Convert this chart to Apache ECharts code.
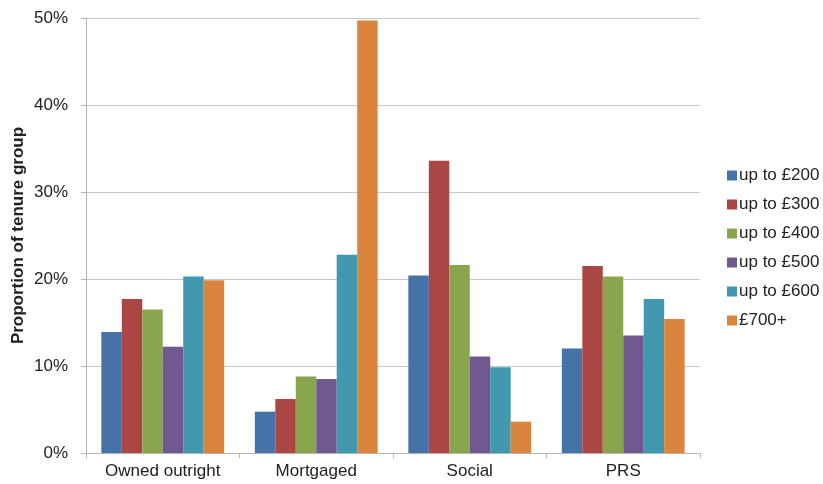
<!DOCTYPE html>
<html><head><meta charset="utf-8">
<script src="https://cdn.jsdelivr.net/npm/echarts@6/dist/echarts.min.js"></script>
<style>html,body{margin:0;padding:0;background:#fff}#c{width:823px;height:484px}</style>
</head><body><div id="c"></div>
<script>
const categories = ['Owned outright', 'Mortgaged', 'Social', 'PRS'];
const seriesNames = ['up to £200', 'up to £300', 'up to £400', 'up to £500', 'up to £600', '£700+'];
const upTo200 = [13.9, 4.75, 20.4, 12.0];
const upTo300 = [17.7, 6.2, 33.6, 21.5];
const upTo400 = [16.5, 8.8, 21.6, 20.3];
const upTo500 = [12.2, 8.5, 11.1, 13.5];
const upTo600 = [20.3, 22.8, 9.85, 17.7];
const over700 = [19.85, 49.7, 3.6, 15.4];
const yTicks = [0, 10, 20, 30, 40, 50];
const colors = ['#4572A7', '#AA4643', '#89A54E', '#71588F', '#4198AF', '#DB843D'];
const values = [upTo200, upTo300, upTo400, upTo500, upTo600, over700];

const chart = echarts.init(document.getElementById('c'));
chart.setOption({
  animation: false,
  color: colors,
  textStyle: { fontFamily: 'Liberation Sans, Arial, sans-serif' },
  grid: { left: 86, right: 123, top: 18, bottom: 31, containLabel: false, outerBoundsMode: 'none' },
  legend: {
    orient: 'vertical', left: 722, top: 162, itemWidth: 10, itemHeight: 10, itemGap: 12,
    icon: 'rect',
    textStyle: { fontSize: 17, color: '#222', padding: [0, 0, 0, -3] },
    data: seriesNames
  },
  xAxis: {
    type: 'category', data: categories,
    axisLine: { lineStyle: { color: '#b5b5b5' } },
    axisTick: { show: true, interval: 0, alignWithLabel: false, length: 5, lineStyle: { color: '#b5b5b5' } },
    axisLabel: { interval: 0, fontSize: 17, color: '#222', margin: 10 }
  },
  yAxis: {
    type: 'value', min: yTicks[0], max: yTicks[yTicks.length - 1], interval: 10,
    name: 'Proportion of tenure group', nameLocation: 'middle', nameGap: 59, nameRotate: 90,
    nameMoveOverlap: false,
    nameTextStyle: { fontSize: 17, fontWeight: 'bold', color: '#222' },
    axisLine: { show: true, lineStyle: { color: '#b5b5b5' } },
    axisTick: { show: true, length: 5, inside: false, lineStyle: { color: '#b5b5b5' } },
    splitLine: { lineStyle: { color: '#c8c8c8' } },
    axisLabel: { fontSize: 17, color: '#222', margin: 18, formatter: v => v + '%' }
  },
  series: values.map((d, i) => ({
    name: seriesNames[i], type: 'bar', data: d,
    barGap: '0%', barCategoryGap: '20%'
  }))
});
</script></body></html>
